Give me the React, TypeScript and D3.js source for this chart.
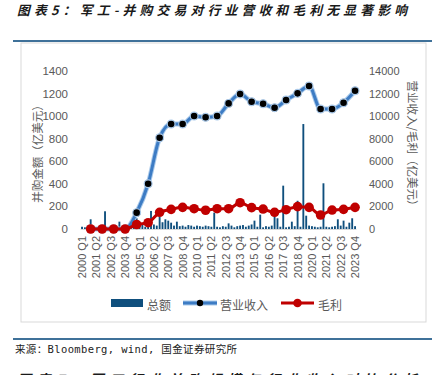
import React from "react";
import * as d3 from "d3";

const years = d3.range(2000, 2024);
const quarterNames = ["Q1", "Q2", "Q3", "Q4"];
const quarters: string[] = [];
years.forEach((y) => quarterNames.forEach((q) => quarters.push(`${y} ${q}`)));

// 并购总额 (left axis, 亿美元), one per quarter 2000 Q1 .. 2023 Q4
const dealTotal = [
  20, 15, 30, 86, 20, 10, 15, 20, 157, 15, 10, 20, 15, 65, 10, 15, 5, 10, 20, 95,
  30, 40, 20, 30, 160, 40, 30, 109, 60, 86, 74, 56, 30, 65, 25, 30, 20, 35, 30, 20,
  30, 25, 20, 30, 25, 20, 145, 20, 15, 25, 20, 50, 30, 15, 25, 30, 35, 20, 30, 40,
  74, 20, 127, 15, 25, 20, 30, 118, 95, 20, 384, 15, 20, 65, 25, 250, 20, 930, 118, 30,
  25, 20, 15, 20, 405, 20, 15, 20, 25, 86, 30, 74, 20, 56, 95, 25,
];

// 营业收入 and 毛利 (right axis, 亿美元), one per year, plotted at Q4
const revenue = [0, 0, 0, 0, 1450, 4010, 8090, 9300, 9300, 10010, 9900, 10010, 11130, 11960, 11280, 11100, 10750, 11430, 12020, 12670, 10630, 10630, 11190, 12250];
const grossProfit = [0, 0, 0, 0, 400, 560, 1480, 1740, 1920, 1800, 1660, 1800, 1800, 2330, 1890, 1770, 1480, 1710, 1980, 1920, 1240, 1680, 1740, 1920];

const leftTicks = [0, 200, 400, 600, 800, 1000, 1200, 1400];
const rightTicks = [0, 2000, 4000, 6000, 8000, 10000, 12000, 14000];
const legendLabels = ["总额", "营业收入", "毛利"];

const titleText = "图表5：军工-并购交易对行业营收和毛利无显著影响";
const sourceText = "来源：Bloomberg, wind, 国金证券研究所";
const nextTitle = "图表7：军工行业并购规模与行业收入对比分析";

const BAR = "#0f4f7d";
const BLUE = "#3d7cc4";
const BLUE_HALO = "#a9c9ea";
const RED = "#c00000";
const GRAY = "#595959";
const RULE = "#3f7199";
const FONT = "'Liberation Sans', Arial, 'Noto Sans CJK SC', sans-serif";
const CJK = "'Noto Sans CJK SC', 'Liberation Sans', sans-serif";

export default function App() {
  const x = d3.scaleBand<number>().domain(d3.range(quarters.length)).range([80.6, 356.5]).paddingInner(0.35).paddingOuter(0.175);
  const cx = (i: number) => (x(i) as number) + x.bandwidth() / 2;
  const yL = d3.scaleLinear().domain([0, 1400]).range([229, 71]);
  const yR = d3.scaleLinear().domain([0, 14000]).range([229, 71]);

  const yearIdx = years.map((_, k) => k * 4 + 3);
  const lineGen = (vals: number[]) =>
    d3
      .line<number>()
      .x((_, k) => cx(yearIdx[k]))
      .y((v) => yR(v))
      .curve(d3.curveMonotoneX)(vals) as string;

  const labelIdx = d3.range(0, quarters.length, 5);

  return (
    <svg width={432} height={375} style={{ position: "absolute", left: 0, top: 0, background: "#fff" }}>
      <rect x={0} y={0} width={432} height={375} fill="#fff" />
      <text x={17} y={14.5} fontFamily={CJK} fontSize={12.8} fontWeight="bold" fontStyle="italic" fill="#1a1a1a" textLength={390} lengthAdjust="spacing">
        {titleText}
      </text>
      <line x1={13} x2={432} y1={41} y2={41} stroke={RULE} strokeWidth={2} />
      <rect x={21} y={43} width={405} height={279} fill="#fff" stroke="#d9d9d9" strokeWidth={1} />

      {/* axis titles */}
      <text transform="translate(37,151) rotate(-90)" textAnchor="middle" dominantBaseline="central" fontFamily={CJK} fontSize={11.5} fill={GRAY}>
        并购金额（亿美元）
      </text>
      <text transform="translate(413,146) rotate(90)" textAnchor="middle" dominantBaseline="central" fontFamily={CJK} fontSize={11.5} fill={GRAY}>
        营业收入/毛利（亿美元）
      </text>

      {leftTicks.map((t) => (
        <text key={"l" + t} x={68} y={yL(t)} textAnchor="end" dominantBaseline="central" fontFamily={FONT} fontSize={11.5} fill={GRAY}>
          {t}
        </text>
      ))}
      {rightTicks.map((t) => (
        <text key={"r" + t} x={369} y={yR(t)} textAnchor="start" dominantBaseline="central" fontFamily={FONT} fontSize={11} fill={GRAY}>
          {t}
        </text>
      ))}

      <line x1={80.6} x2={356.5} y1={229.5} y2={229.5} stroke="#d9d9d9" strokeWidth={1} />

      {dealTotal.map((v, i) => (
        <rect key={"b" + i} x={x(i)} y={yL(v)} width={x.bandwidth()} height={yL(0) - yL(v)} fill={BAR} />
      ))}

      {labelIdx.map((i) => (
        <text key={"x" + i} transform={`translate(${cx(i)},236) rotate(-90)`} textAnchor="end" dominantBaseline="central" fontFamily={FONT} fontSize={11} fill={GRAY}>
          {quarters[i]}
        </text>
      ))}

      {/* revenue line */}
      <path d={lineGen(revenue)} fill="none" stroke={BLUE_HALO} strokeWidth={5} strokeLinejoin="round" />
      <path d={lineGen(revenue)} fill="none" stroke={BLUE} strokeWidth={3} strokeLinejoin="round" />
      {revenue.map((v, k) => (
        <circle key={"rv" + k} cx={cx(yearIdx[k])} cy={yR(v)} r={3.9} fill="#000" stroke={BLUE_HALO} strokeWidth={1.2} />
      ))}

      {/* gross profit line */}
      <path d={lineGen(grossProfit)} fill="none" stroke={RED} strokeWidth={3} strokeLinejoin="round" />
      {grossProfit.map((v, k) => (
        <circle key={"gp" + k} cx={cx(yearIdx[k])} cy={yR(v)} r={4.8} fill={RED} />
      ))}

      {/* legend */}
      <rect x={111} y={299} width={32} height={8} fill={BAR} />
      <text x={147} y={304} dominantBaseline="central" fontFamily={CJK} fontSize={12} fill={GRAY}>
        {legendLabels[0]}
      </text>
      <line x1={183} x2={217} y1={303} y2={303} stroke={BLUE_HALO} strokeWidth={5} />
      <line x1={183} x2={217} y1={303} y2={303} stroke={BLUE} strokeWidth={3} />
      <circle cx={200} cy={303} r={3.2} fill="#000" />
      <text x={220} y={304} dominantBaseline="central" fontFamily={CJK} fontSize={12} fill={GRAY}>
        {legendLabels[1]}
      </text>
      <line x1={281} x2={314} y1={303} y2={303} stroke={RED} strokeWidth={3} />
      <circle cx={297.5} cy={303} r={4.3} fill={RED} />
      <text x={318} y={304} dominantBaseline="central" fontFamily={CJK} fontSize={12} fill={GRAY}>
        {legendLabels[2]}
      </text>

      <line x1={13} x2={432} y1={339} y2={339} stroke={RULE} strokeWidth={2} />
      <text x={15} y={353} fontFamily="'DejaVu Sans Mono', 'Noto Sans CJK SC', monospace" fontSize={10.5} fill="#222" textLength={222} lengthAdjust="spacing">
        {sourceText}
      </text>
      <text x={17} y={385} fontFamily={CJK} fontSize={14} fontWeight="bold" fontStyle="italic" fill="#1a1a1a" textLength={400} lengthAdjust="spacing">
        {nextTitle}
      </text>
    </svg>
  );
}
